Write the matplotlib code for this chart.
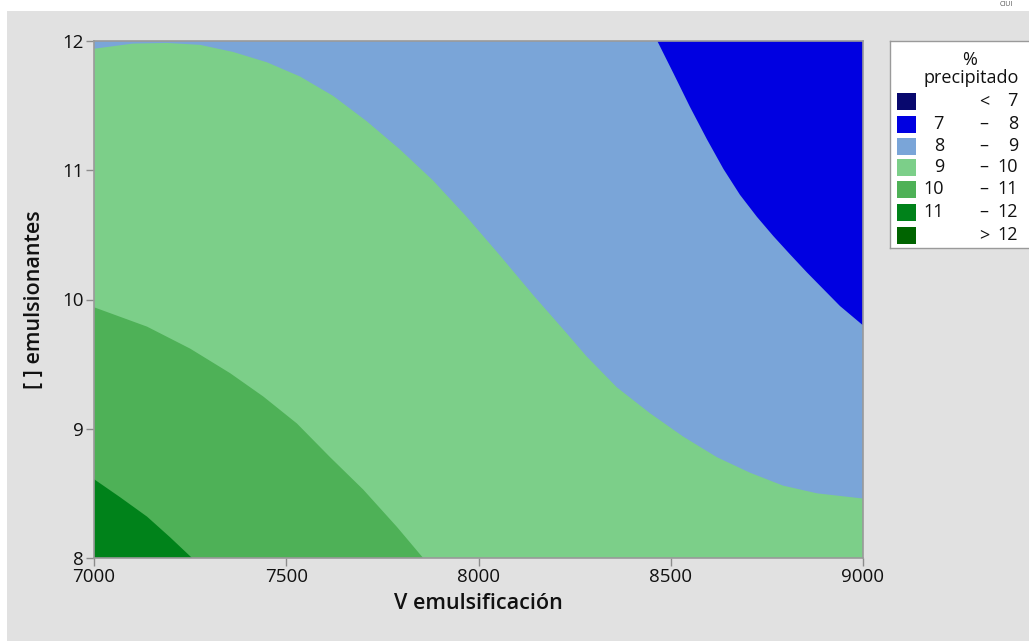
import matplotlib
matplotlib.use("Agg")
import matplotlib.pyplot as plt
from matplotlib.patches import Rectangle

plt.rcParams['font.family'] = ['Open Sans', 'DejaVu Sans']

# contour boundaries (V emulsificación, [ ] emulsionantes)
b_11_12_x = [7000, 7068, 7138, 7198, 7255]
b_11_12_y = [8.61, 8.47, 8.32, 8.16, 8.00]

b_10_11_x = [7000, 7138, 7250, 7354, 7440, 7528, 7614, 7700, 7788, 7856]
b_10_11_y = [9.94, 9.79, 9.62, 9.43, 9.25, 9.04, 8.78, 8.53, 8.24, 8.00]

b_9_10_x = [7000, 7101, 7190, 7276, 7362, 7450, 7536, 7622, 7709, 7796, 7882, 7969,
            8056, 8142, 8229, 8281, 8360, 8446, 8532, 8620, 8706, 8792, 8881, 9000]
b_9_10_y = [11.94, 11.98, 11.985, 11.97, 11.915, 11.835, 11.725, 11.575, 11.38, 11.16, 10.92, 10.64,
            10.34, 10.035, 9.74, 9.56, 9.32, 9.12, 8.94, 8.78, 8.66, 8.56, 8.50, 8.46]

b_8_9_x = [8465, 8507, 8550, 8594, 8637, 8680, 8724, 8767, 8810, 8854, 8897, 8940, 9000]
b_8_9_y = [12.00, 11.75, 11.49, 11.24, 11.01, 10.81, 10.64, 10.49, 10.35, 10.21, 10.08, 9.95, 9.80]

xmin, xmax = 7000, 9000
ymin, ymax = 8, 12
xticks = [7000, 7500, 8000, 8500, 9000]
yticks = [8, 9, 10, 11, 12]

legend_lo = ['', '7', '8', '9', '10', '11', '']
legend_sep = ['<', '–', '–', '–', '–', '–', '>']
legend_hi = ['7', '8', '9', '10', '11', '12', '12']
colors = ['#08086E', '#0000E1', '#7AA5D8', '#7CCF89', '#4EB157', '#00821A', '#006400']

W, H = 1029, 641
fig = plt.figure(figsize=(W / 100, H / 100), dpi=100)
fig.patch.set_facecolor('white')
fig.patches.append(Rectangle((7 / W, 0), 1, (H - 11) / H, transform=fig.transFigure,
                             facecolor='#E1E1E1', edgecolor='none', zorder=-10))
fig.text(1000 / W, 1 - 5 / H, 'CIUI', fontsize=5, color='#555555', va='center', ha='left')

ax = fig.add_axes([94 / W, 1 - 558 / H, (863 - 94) / W, (558 - 41) / H])
ax.set_facecolor(colors[2])

# 9-10 region and everything below it
ax.fill(b_9_10_x + [xmax, xmin], b_9_10_y + [ymin, ymin], color=colors[3], lw=0)
ax.fill(b_10_11_x + [xmin], b_10_11_y + [ymin], color=colors[4], lw=0)
ax.fill(b_11_12_x + [xmin], b_11_12_y + [ymin], color=colors[5], lw=0)
ax.fill(b_8_9_x + [xmax], b_8_9_y + [ymax], color=colors[1], lw=0)

ax.set_xlim(xmin, xmax)
ax.set_ylim(ymin, ymax)
ax.set_xticks(xticks)
ax.set_yticks(yticks)
ax.tick_params(colors='#8C8C8C', labelcolor='#111111', labelsize=13.5, length=6, width=1, pad=1.5)
for s in ax.spines.values():
    s.set_color('#9A9A9A')
    s.set_linewidth(1.2)
ax.set_xlabel('V emulsificación', fontsize=15.5, fontweight='semibold', color='#111111', labelpad=5)
ax.set_ylabel('[ ] emulsionantes', fontsize=15.5, fontweight='semibold', color='#111111', labelpad=12)

# legend drawn in its own axes (pixel coords)
lax = fig.add_axes([890 / W, 1 - 248 / H, 150 / W, (248 - 41) / H])
lax.set_xlim(890, 1040)
lax.set_ylim(248, 41)
lax.set_xticks([])
lax.set_yticks([])
lax.set_facecolor('white')
for s in lax.spines.values():
    s.set_color('#9A9A9A')
    s.set_linewidth(1)
lax.text(970, 60, '%', ha='center', va='center', fontsize=13, color='#111111')
lax.text(971, 78, 'precipitado', ha='center', va='center', fontsize=13, color='#111111')
row_y = [101, 124, 146, 167, 189, 212, 235]
for i, c in enumerate(colors):
    y = row_y[i]
    lax.add_patch(Rectangle((897, y - 8), 19, 17, facecolor=c, edgecolor='none'))
    lax.text(944, y, legend_lo[i], ha='right', va='center', fontsize=13, color='#111111')
    lax.text(984, y, legend_sep[i], ha='center', va='center', fontsize=13, color='#111111')
    lax.text(1018, y, legend_hi[i], ha='right', va='center', fontsize=13, color='#111111')

fig.savefig('out.png', dpi=100)
